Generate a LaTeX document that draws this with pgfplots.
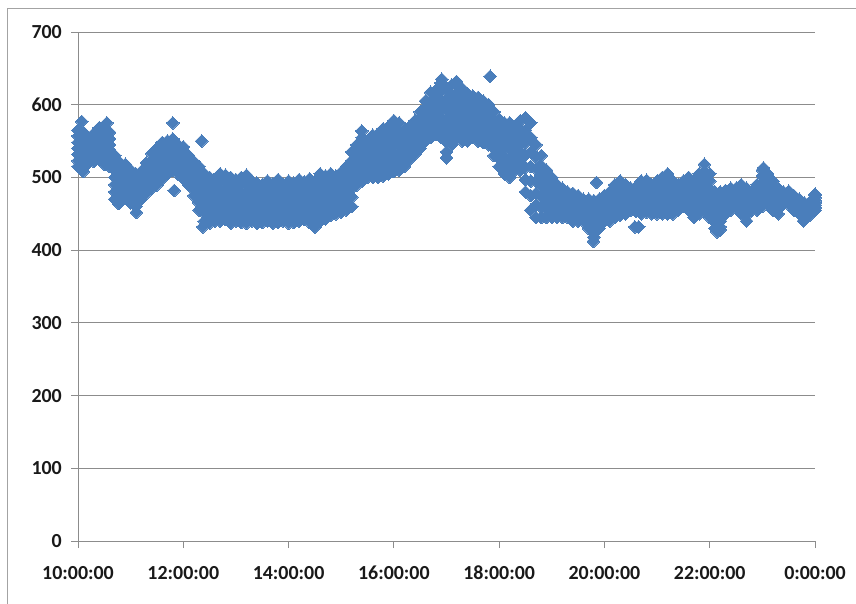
\documentclass[border=0pt]{standalone}
\usepackage{pgfplots}
\pgfplotsset{compat=1.18}
\usepackage{pgfplotstable}
\usepackage{fontspec}
\setmainfont{Carlito}
\definecolor{xlblue}{HTML}{4A7EBB}
\definecolor{xlgrid}{HTML}{8C8C8C}

\pgfplotstableread{
x a b c d e f g
10.0 515 523 532 540 548 557 565
10.1 508 520 528 536 544 552 562
10.2 520 526 532 538 543 549 555
10.3 522 531 537 543 548 554 560
10.4 525 532 538 545 552 558 568
10.5 518 528 537 545 553 562 570
10.6 515 523 530 538 545 553 562
10.7 470 480 490 500 510 520 530
10.8 468 478 487 495 503 512 520
10.9 475 482 488 495 502 508 518
11.0 465 473 480 488 495 503 510
11.1 460 468 475 483 490 498 505
11.2 470 476 482 488 493 499 508
11.3 478 487 493 500 507 513 520
11.4 485 493 500 508 515 523 533
11.5 490 498 507 515 523 532 540
11.6 498 508 515 523 530 538 548
11.7 505 513 520 528 535 543 550
11.8 510 517 523 530 537 543 553
11.9 505 512 518 525 532 538 545
12.0 498 507 513 520 527 533 542
12.1 490 497 503 510 517 523 530
12.2 475 483 490 498 505 513 522
12.3 455 465 475 485 495 505 515
12.4 440 451 462 473 483 494 505
12.5 437 450 460 470 480 490 500
12.6 440 449 458 468 477 486 497
12.7 440 451 462 473 483 494 505
12.8 442 452 463 472 484 493 503
12.9 437 450 460 470 480 490 500
13.0 440 449 458 468 477 486 497
13.1 438 448 459 469 479 490 500
13.2 437 448 459 470 480 491 503
13.3 440 449 458 468 477 486 495
13.4 437 448 457 465 473 482 492
13.5 438 447 456 465 474 483 490
13.6 440 448 457 465 473 482 495
13.7 437 449 458 466 475 484 491
13.8 438 448 457 467 476 486 497
13.9 440 448 457 465 473 482 490
14.0 437 449 458 466 475 484 495
14.1 438 448 457 467 476 486 492
14.2 440 449 458 468 477 486 497
14.3 442 451 460 469 478 487 494
14.4 438 448 457 467 476 486 498
14.5 432 443 454 465 476 487 495
14.6 440 451 462 473 483 494 505
14.7 443 453 464 474 484 495 502
14.8 448 457 465 474 483 491 505
14.9 450 459 468 478 487 496 502
15.0 452 461 470 479 487 496 507
15.1 455 465 475 485 495 505 515
15.2 460 473 485 498 510 523 535
15.3 490 499 508 518 527 536 545
15.4 495 505 515 525 535 545 555
15.5 500 508 517 525 533 542 550
15.6 500 509 518 528 537 546 558
15.7 500 510 520 530 540 550 560
15.8 502 511 522 533 543 554 567
15.9 505 516 527 538 548 559 570
16.0 508 520 531 543 555 566 578
16.1 510 521 532 543 553 564 575
16.2 515 523 532 540 548 557 565
16.3 525 533 540 548 555 563 570
16.4 532 539 546 554 561 568 578
16.5 540 548 557 565 573 582 590
16.6 550 559 568 578 587 596 605
16.7 555 565 575 585 595 605 617
16.8 560 570 580 590 600 610 620
16.9 555 568 580 593 605 618 630
17.0 535 549 563 578 592 606 620
17.1 545 558 572 585 598 612 627
17.2 555 567 579 592 604 616 628
17.3 550 562 574 586 598 610 622
17.4 550 561 572 583 593 604 615
17.5 555 565 574 584 593 603 612
17.6 550 560 570 580 590 600 610
17.7 548 558 567 577 586 596 605
17.8 545 554 563 573 582 591 600
17.9 530 540 550 560 570 580 590
18.0 515 526 537 548 558 569 580
18.1 505 517 528 540 552 563 575
18.2 500 513 525 538 550 563 575
18.3 510 520 530 540 550 560 570
18.4 510 521 533 544 555 567 578
18.5 480 497 514 531 548 565 582
18.6 455 475 495 515 535 555 575
18.7 445 462 478 495 512 528 545
18.8 445 459 473 488 502 516 530
18.9 445 456 467 478 488 499 510
19.0 445 454 463 473 482 491 500
19.1 445 453 460 468 475 483 490
19.2 445 452 458 465 472 478 485
19.3 445 451 457 463 468 474 480
19.4 440 446 453 459 465 472 478
19.5 440 446 452 458 463 469 475
19.6 440 445 450 455 460 465 470
19.7 430 437 443 450 457 463 470
19.8 418 426 435 443 451 460 468
19.9 430 437 443 450 457 463 470
20.0 440 446 452 458 463 469 475
20.1 440 447 453 460 467 473 480
20.2 445 453 460 468 475 483 490
20.3 448 456 464 472 479 487 495
20.4 450 457 463 470 477 483 490
20.5 455 460 465 470 475 480 485
20.6 453 459 465 471 476 482 487
20.7 450 458 465 473 480 488 495
20.8 452 459 467 474 481 489 496
20.9 450 457 463 470 477 483 490
21.0 450 458 465 473 480 488 495
21.1 450 458 467 475 483 492 500
21.2 450 459 468 478 487 496 505
21.3 450 458 465 473 480 488 495
21.4 455 461 467 473 478 484 490
21.5 460 466 472 478 483 489 495
21.6 455 463 470 478 485 493 500
21.7 445 453 462 470 478 487 495
21.8 450 459 468 478 487 496 505
21.9 455 466 476 487 497 508 518
22.0 445 455 465 475 485 495 505
22.1 430 438 447 455 463 472 480
22.2 432 440 448 456 464 472 480
22.3 450 455 461 466 471 477 482
22.4 455 460 465 470 475 480 485
22.5 460 464 468 473 477 481 485
22.6 450 457 463 470 477 483 490
22.7 440 448 455 463 470 478 485
22.8 455 459 463 468 472 476 480
22.9 455 461 467 473 478 484 490
23.0 460 468 477 485 493 502 510
23.1 465 472 478 485 492 498 505
23.2 455 462 468 475 482 488 495
23.3 450 456 462 468 473 479 485
23.4 465 468 470 473 475 478 480
23.5 463 466 469 472 475 478 481
23.6 455 458 462 465 468 472 475
23.7 450 453 457 460 463 467 470
23.8 445 448 452 455 458 462 465
23.9 448 451 454 457 460 463 466
24.0 455 458 462 465 468 472 475
}\datatable

\pgfplotstableread{
x y
10.07 577
10.55 575
10.77 464
11.11 452
11.80 575
11.83 482
12.35 550
12.37 432
14.50 432
15.39 564
16.91 635
17.00 527
17.19 632
17.83 639
19.79 412
19.85 493
20.58 432
20.65 432
22.14 425
22.20 428
23.02 513
23.78 440
24.00 477
}\outliers

\begin{document}
\begin{tikzpicture}
\path[use as bounding box] (0,0) rectangle (856bp,604bp);
\draw[xlgrid!80, line width=1bp] (7bp,0) -- (7bp,595bp) -- (856bp,595bp);
\begin{axis}[
  at={(78bp,63bp)}, anchor=south west,
  scale only axis, width=737bp, height=509bp,
  xmin=10, xmax=24, ymin=0, ymax=700,
  axis x line*=bottom, axis y line*=left,
  axis line style={xlgrid, line width=1bp, -},
  xtick={10,12,14,16,18,20,22,24},
  xticklabels={10:00:00,12:00:00,14:00:00,16:00:00,18:00:00,20:00:00,22:00:00,0:00:00},
  ytick={0,100,...,700},
  ymajorgrids, grid style={xlgrid, line width=1bp},
  tick align=outside, major tick length=7bp,
  tick style={xlgrid, line width=1bp},
  ticklabel style={font=\fontsize{20}{24}\selectfont\bfseries, text=black!90},
  /pgf/number format/assume math mode=true,
  yticklabel style={inner sep=0pt, anchor=east, xshift=-9bp},
  xticklabel style={inner sep=0pt, anchor=north, yshift=-18bp},
  clip=false,
]
\pgfplotsinvokeforeach{a,b,c,d,e,f,g}{
  \addplot[only marks, mark=square*, mark size=4.5bp,
    mark options={rotate=45, fill=xlblue, draw=xlblue, line width=0pt}]
    table[x=x, y=#1]{\datatable};
}
\addplot[only marks, mark=square*, mark size=4.5bp,
  mark options={rotate=45, fill=xlblue, draw=xlblue, line width=0pt}]
  table[x=x, y=y]{\outliers};
\end{axis}
\end{tikzpicture}
\end{document}
